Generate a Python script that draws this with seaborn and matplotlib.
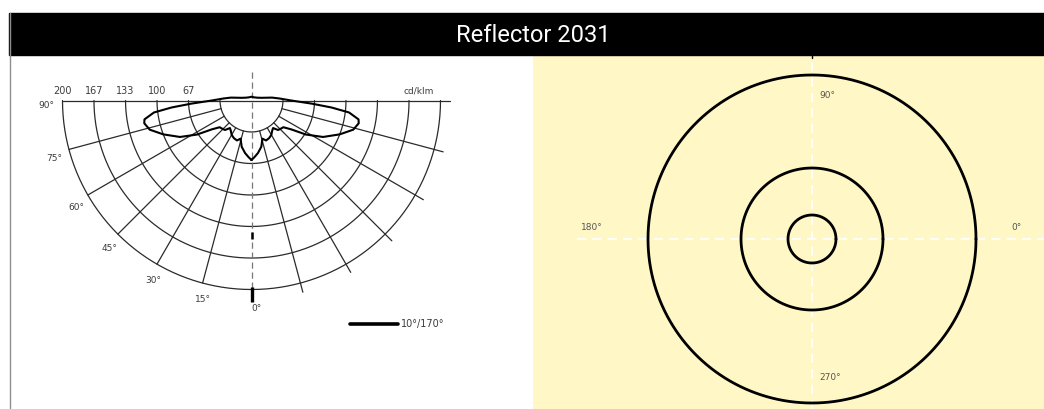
import numpy as np
import pandas as pd
import matplotlib
matplotlib.use("Agg")
import matplotlib.pyplot as plt
from matplotlib.patches import Rectangle
from matplotlib.lines import Line2D
import seaborn as sns

TITLE = "Reflector 2031"

# Luminous intensity (cd/klm) against angle from nadir, plane C10/C170 (symmetric)
gamma_deg = [0, 3, 7, 12, 16, 20, 25, 30, 34, 38, 42, 46, 50, 54, 58, 63, 69,
             74, 78, 80, 83, 85, 87, 90, 94, 98, 105, 115, 130, 150, 180]
intensity = [63, 60, 56, 50, 42, 45, 44, 42, 39, 37, 42, 43, 44, 52, 68, 85, 100,
             112, 116, 115, 104, 85, 64, 42, 30, 22, 11, 7, 5, 4, 4]

ring_values = [33.3, 66.7, 100, 133.3, 166.7, 200]
ring_labels = ["200", "167", "133", "100", "67"]
spoke_angles = [15, 30, 45, 60, 75]
angle_labels = ["90°", "75°", "60°", "45°", "30°", "15°", "0°"]
unit_label = "cd/klm"
curve_label = "10°/170°"

# Isolux rings on the right-hand panel
isolux_radii = [24, 71, 164]
compass_labels = ["0°", "90°", "180°", "270°"]

sns.set_style("white")
plt.rcParams["font.family"] = ["DejaVu Sans"]

W, H = 1044, 409
fig = plt.figure(figsize=(W / 100, H / 100), dpi=100)
fig.patch.set_facecolor("white")

GRID = "#2b2b2b"
TXT = "#3c3c3c"
PX = 0.945          # pixels per cd/klm
CX, CY = 251.5, 100.5

# ---- header bar -------------------------------------------------------
fig.patches.append(Rectangle((9 / W, (H - 55) / H), (W - 9) / W, 42 / H,
                             transform=fig.transFigure, color="black", zorder=1))
fig.text(533 / W, (H - 35) / H, TITLE, color="white", ha="center", va="center",
         fontsize=17, family=["Roboto", "DejaVu Sans"])
fig.add_artist(Line2D([9.5 / W, 9.5 / W], [0, (H - 13) / H], color="#8f8f8f", lw=1.0))
fig.add_artist(Line2D([812 / W, 812 / W], [(H - 58) / H, (H - 55) / H], color="black", lw=1.0))

# ---- polar intensity diagram -------------------------------------------
ax = fig.add_axes([10 / W, 0, 522 / W, 352 / H])
ax.set_xlim((10 - CX) / PX, (532 - CX) / PX)
ax.set_ylim(-(H - CY) / PX, (CY - 57) / PX)
ax.axis("off")

t = np.radians(np.linspace(-90, 90, 241))
for rv in ring_values:
    ax.plot(rv * np.sin(t), -rv * np.cos(t), color=GRID, lw=0.9)

for a in spoke_angles:
    ar = np.radians(a)
    for side, r_end in ((-1, 200), (1, 210)):
        r = np.array([ring_values[0], r_end])
        ax.plot(side * r * np.sin(ar), -r * np.cos(ar), color=GRID, lw=0.9)

ax.plot([-200, 210], [0, 0], color=GRID, lw=0.9)
ax.plot([0, 0], [30, -198], color="#777777", lw=0.9, ls=(0, (5, 3)))
ax.plot([0, 0], [-197, -213], color="black", lw=2.4, solid_capstyle="butt")
ax.plot([0, 0], [-139, -147], color="black", lw=1.8, solid_capstyle="butt")

g = np.array(gamma_deg, dtype=float)
r = np.array(intensity, dtype=float)
theta = np.radians(np.concatenate([g, 360 - g[::-1]]))
rr = np.concatenate([r, r[::-1]])
curve = pd.DataFrame({"x": rr * np.sin(theta), "y": -rr * np.cos(theta)})
sns.lineplot(data=curve, x="x", y="y", sort=False, estimator=None,
             color="black", lw=1.5, ax=ax, label=curve_label)

for lab, val in zip(ring_labels, ring_values[::-1]):
    ax.text(-val, 10, lab, ha="center", va="center", fontsize=7, color=TXT)
ax.text(177, 10, unit_label, ha="center", va="center", fontsize=6.5, color=TXT)

for i, lab in enumerate(angle_labels):
    ang = np.radians(90 - 15 * i - 1.3)
    rad = 220 if i == len(angle_labels) - 1 else 217
    ax.text(-rad * np.sin(ang), -rad * np.cos(ang), lab, ha="center",
            va="center", fontsize=6.5, color=TXT)

leg = ax.legend(loc="center left", bbox_to_anchor=((350 - 10) / 522, (H - 324) / 352),
                frameon=False, fontsize=7, handlelength=4.9, handletextpad=0.3,
                borderpad=0, borderaxespad=0, labelcolor=TXT)
for ln in leg.get_lines():
    ln.set_linewidth(2.6)

# ---- isolux panel -----------------------------------------------------
ax2 = fig.add_axes([533 / W, 0, 511 / W, 353 / H])
ax2.set_facecolor("#FFF8C6")
ax2.set_xlim(533 - 812, W - 812)
ax2.set_ylim(239 - H, 239 - 56)
ax2.set_xticks([])
ax2.set_yticks([])
for s in ax2.spines.values():
    s.set_visible(False)

ax2.plot([-235, 232], [0, 0], color="white", lw=1.3, ls=(0, (5, 3.5)))
ax2.plot([0, 0], [-170, 183], color="white", lw=1.3, ls=(0, (5, 3.5)))

phi = np.linspace(0, 2 * np.pi, 361)
rings = pd.concat([pd.DataFrame({"x": rad * np.cos(phi), "y": rad * np.sin(phi), "ring": k})
                   for k, rad in enumerate(isolux_radii)])
sns.lineplot(data=rings, x="x", y="y", units="ring", estimator=None, sort=False,
             color="black", lw=2.0, ax=ax2)
ax2.set_xlabel("")
ax2.set_ylabel("")

lab_pos = {"0°": (205, 11), "90°": (15, 144), "180°": (-220, 11), "270°": (18, -138)}
for lab in compass_labels:
    x, y = lab_pos[lab]
    ax2.text(x, y, lab, ha="center", va="center", fontsize=6.5, color="#555555")

fig.savefig("out.png", dpi=100)
